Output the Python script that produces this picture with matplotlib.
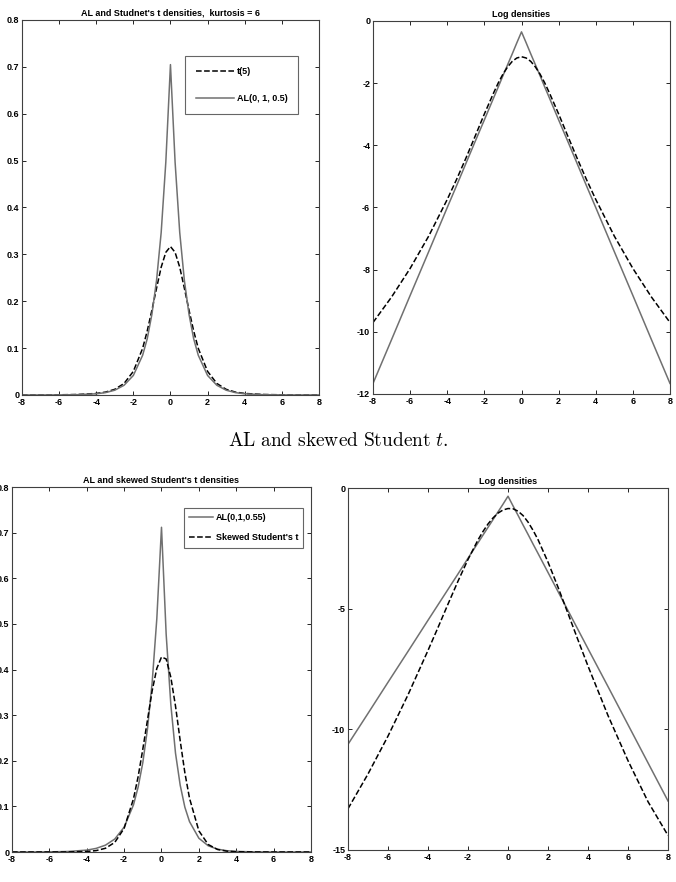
import numpy as np
import matplotlib
matplotlib.use("Agg")
import matplotlib.pyplot as plt

plt.rcParams['font.family'] = ['Liberation Sans', 'DejaVu Sans']
plt.rcParams['mathtext.fontset'] = 'cm'

# common x grid (values at these points)
x = [-8, -7, -6, -5, -4, -3.5, -3, -2.5, -2, -1.5, -1.25, -1, -0.75, -0.5, -0.25,
     0, 0.25, 0.5, 0.75, 1, 1.25, 1.5, 2, 2.5, 3, 3.5, 4, 5, 6, 7, 8]

# top row: log densities
log_t5 = [-9.70, -8.88, -7.96, -6.92, -5.74, -5.10, -4.42, -3.71, -2.99, -2.31, -1.99,
          -1.71, -1.48, -1.30, -1.19, -1.15, -1.19, -1.30, -1.48, -1.71, -1.99, -2.31,
          -2.99, -3.71, -4.42, -5.10, -5.74, -6.92, -7.96, -8.88, -9.70]
log_al05 = [-11.66, -10.25, -8.83, -7.42, -6.00, -5.30, -4.59, -3.88, -3.18, -2.47, -2.12,
            -1.76, -1.41, -1.06, -0.70, -0.35, -0.70, -1.06, -1.41, -1.76, -2.12, -2.47,
            -3.18, -3.88, -4.59, -5.30, -6.00, -7.42, -8.83, -10.25, -11.66]

# bottom row: log densities
log_al055 = [-10.62, -9.34, -8.05, -6.77, -5.48, -4.84, -4.20, -3.56, -2.91, -2.27, -1.95,
             -1.63, -1.31, -0.99, -0.67, -0.34, -0.74, -1.13, -1.53, -1.92, -2.32, -2.71,
             -3.50, -4.29, -5.08, -5.87, -6.66, -8.23, -9.81, -11.39, -12.97]
log_skt = [-13.29, -11.85, -10.28, -8.57, -6.73, -5.78, -4.81, -3.86, -2.96, -2.15, -1.80,
           -1.49, -1.24, -1.04, -0.91, -0.85, -0.86, -0.96, -1.14, -1.41, -1.75, -2.14,
           -3.07, -4.11, -5.20, -6.30, -7.38, -9.43, -11.30, -13.00, -14.40]

gray = '#707070'
tick_font = dict(fontsize=6.5, fontweight='bold')


def style(ax, xt, yt):
    ax.set_xlim(-8, 8)
    ax.set_xticks(xt)
    ax.set_yticks(yt)
    ax.set_xticklabels([str(v) for v in xt], **tick_font)
    ax.set_yticklabels([str(v) for v in yt], **tick_font)
    ax.tick_params(direction='in', top=True, right=True, length=3, width=0.6, pad=2)
    for s in ax.spines.values():
        s.set_linewidth(0.8)
        s.set_color('#404040')


def matlab_legend(ax, anchor, hl, ls, bp):
    leg = ax.legend(loc='upper right', bbox_to_anchor=anchor, fancybox=False,
                    edgecolor='#404040', fontsize=6.5, handlelength=hl,
                    labelspacing=ls, borderpad=bp, handletextpad=0.3)
    leg.get_frame().set_linewidth(0.8)
    for t in leg.get_texts():
        t.set_fontweight('bold')


fig = plt.figure(figsize=(6.76, 8.82), dpi=100)

# top left
ax1 = fig.add_axes([0.0325, 0.5522, 0.4393, 0.4252])
ax1.plot(x, np.exp(log_t5), '--', color='black', lw=1.1, label='t(5)')
ax1.plot(x, np.exp(log_al05), '-', color=gray, lw=1.1, label='AL(0, 1, 0.5)')
ax1.set_ylim(0, 0.8)
yt1 = [0, 0.1, 0.2, 0.3, 0.4, 0.5, 0.6, 0.7, 0.8]
style(ax1, list(range(-8, 9, 2)), yt1)
ax1.set_title("AL and Studnet's t densities,  kurtosis = 6", fontsize=6.5,
              fontweight='bold', pad=3)
matlab_legend(ax1, (0.945, 0.915), 4.2, 2.0, 1.2)

# top right
ax2 = fig.add_axes([0.5518, 0.5533, 0.4393, 0.4229])
ax2.plot(x, log_al05, '-', color=gray, lw=1.1)
ax2.plot(x, log_t5, '--', color='black', lw=1.1)
ax2.set_ylim(-12, 0)
style(ax2, list(range(-8, 9, 2)), [0, -2, -4, -6, -8, -10, -12])
ax2.set_title("Log densities", fontsize=6.5, fontweight='bold', pad=3)

# caption between rows
fig.text(0.5, 0.5005, r"$\mathrm{AL\ and\ skewed\ Student}\ t.$", ha='center',
         va='center', fontsize=14)

# bottom left
ax3 = fig.add_axes([0.01775, 0.0340, 0.4423, 0.4138])
ax3.plot(x, np.exp(log_al055), '-', color=gray, lw=1.1, label='AL(0,1,0.55)')
ax3.plot(x, np.exp(log_skt), '--', color='black', lw=1.1, label="Skewed Student's t")
ax3.set_ylim(0, 0.8)
style(ax3, list(range(-8, 9, 2)), yt1)
ax3.set_title("AL and skewed Student's t densities", fontsize=6.5,
              fontweight='bold', pad=3)
matlab_legend(ax3, (0.99, 0.955), 2.6, 1.2, 0.6)

# bottom right
ax4 = fig.add_axes([0.5148, 0.0363, 0.4734, 0.4104])
ax4.plot(x, log_al055, '-', color=gray, lw=1.1)
ax4.plot(x, log_skt, '--', color='black', lw=1.1)
ax4.set_ylim(-15, 0)
style(ax4, list(range(-8, 9, 2)), [0, -5, -10, -15])
ax4.set_title("Log densities", fontsize=6.5, fontweight='bold', pad=3)

fig.savefig('out.png', dpi=100)
